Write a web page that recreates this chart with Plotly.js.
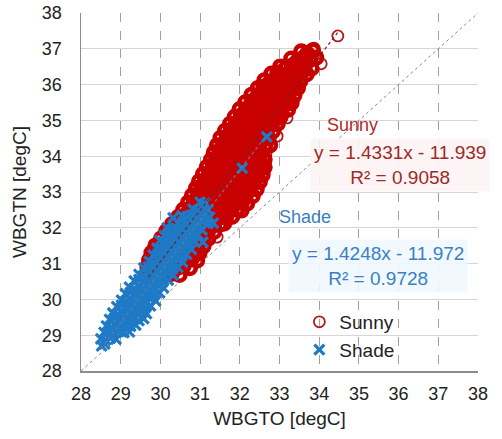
<!DOCTYPE html>
<html><head><meta charset="utf-8">
<script src="https://cdn.plot.ly/plotly-3.0.1.min.js"></script>
<style>html,body{margin:0;padding:0;background:#fff}#chart{width:502px;height:439px}</style>
</head><body><div id="chart"></div>
<script>
// Sunny outliers (isolated open circles)
const sunnyOutX = [34.47, 33.87, 34.05, 33.19, 32.94, 32.66, 31.43];
const sunnyOutY = [37.36, 37.02, 36.58, 35.07, 34.56, 34.06, 31.74];
// Sunny (WBGTO, WBGTN) dense cloud
const sunnyX = [
 33.55, 33.70, 33.84,
 33.30, 33.46, 33.60, 33.76, 33.92,
 33.02, 33.17, 33.33, 33.48, 33.63, 33.80,
 32.80, 32.95, 33.11, 33.26, 33.40, 33.55, 33.68,
 32.62, 32.77, 32.92, 33.07, 33.22, 33.38, 33.52,
 32.46, 32.60, 32.76, 32.90, 33.05, 33.20, 33.35, 33.46,
 32.30, 32.45, 32.60, 32.74, 32.90, 33.04, 33.20, 33.37,
 32.14, 32.30, 32.45, 32.60, 32.75, 32.90, 33.05, 33.20, 33.30,
 32.00, 32.15, 32.30, 32.45, 32.60, 32.75, 32.90, 33.05, 33.21,
 31.88, 32.03, 32.18, 32.33, 32.48, 32.63, 32.78, 32.92, 33.02,
 31.76, 31.90, 32.05, 32.20, 32.36, 32.50, 32.65, 32.80, 32.95,
 31.63, 31.78, 31.93, 32.08, 32.23, 32.38, 32.53, 32.68, 32.83,
 31.52, 31.67, 31.82, 31.97, 32.12, 32.27, 32.42, 32.57, 32.72,
 31.43, 31.58, 31.73, 31.88, 32.03, 32.18, 32.33, 32.48, 32.63, 32.76,
 31.35, 31.50, 31.65, 31.80, 31.95, 32.10, 32.25, 32.40, 32.54,
 31.28, 31.43, 31.58, 31.73, 31.88, 32.03, 32.18, 32.33, 32.48, 32.62,
 31.18, 31.33, 31.48, 31.63, 31.78, 31.93, 32.08, 32.23, 32.38, 32.52, 32.62,
 31.08, 31.23, 31.38, 31.53, 31.68, 31.83, 31.98, 32.13, 32.28, 32.43, 32.57,
 30.98, 31.13, 31.28, 31.43, 31.58, 31.73, 31.88, 32.03, 32.18, 32.33, 32.50,
 30.90, 31.05, 31.20, 31.35, 31.50, 31.65, 31.80, 31.95, 32.10, 32.25, 32.42,
 30.80, 30.95, 31.10, 31.25, 31.40, 31.55, 31.70, 31.85, 32.00, 32.15, 32.32,
 30.70, 30.85, 31.00, 31.15, 31.30, 31.45, 31.60, 31.75, 31.90, 32.05, 32.18,
 30.58, 30.73, 30.88, 31.03, 31.18, 31.33, 31.48, 31.63, 31.78, 31.93, 32.04,
 30.45, 30.60, 30.75, 30.90, 31.05, 31.20, 31.35, 31.50, 31.65, 31.80,
 30.30, 30.45, 30.60, 30.75, 30.90, 31.05, 31.20, 31.35, 31.50, 31.60,
 30.15, 30.30, 30.45, 30.60, 30.75, 30.90, 31.05, 31.20, 31.35,
 30.02, 30.17, 30.32, 30.47, 30.62, 30.77, 30.92, 31.07, 31.20,
 29.88, 30.03, 30.18, 30.33, 30.48, 30.63, 30.78, 30.93, 31.08,
 29.78, 29.93, 30.08, 30.23, 30.38, 30.53, 30.68, 30.83, 30.98,
 29.72, 29.87, 30.02, 30.17, 30.32, 30.47, 30.62, 30.78, 30.92,
 29.68, 29.83, 29.98, 30.13, 30.28, 30.43, 30.58, 30.74,
 29.72, 29.88, 30.05, 30.28, 30.48
];
const sunnyY = [
 36.92, 36.86, 36.95,
 36.72, 36.66, 36.74, 36.69, 36.75,
 36.50, 36.46, 36.53, 36.48, 36.52, 36.45,
 36.30, 36.34, 36.27, 36.32, 36.28, 36.33, 36.29,
 36.11, 36.07, 36.13, 36.09, 36.12, 36.06, 36.10,
 35.90, 35.94, 35.88, 35.92, 35.87, 35.93, 35.89, 35.91,
 35.71, 35.67, 35.73, 35.69, 35.72, 35.68, 35.74, 35.70,
 35.50, 35.53, 35.47, 35.52, 35.48, 35.51, 35.46, 35.52, 35.49,
 35.31, 35.27, 35.32, 35.28, 35.33, 35.29, 35.31, 35.27, 35.30,
 35.10, 35.13, 35.08, 35.12, 35.09, 35.11, 35.07, 35.12, 35.09,
 34.90, 34.87, 34.92, 34.88, 34.91, 34.86, 34.92, 34.89, 34.91,
 34.70, 34.73, 34.68, 34.72, 34.69, 34.71, 34.67, 34.72, 34.70,
 34.51, 34.47, 34.52, 34.48, 34.51, 34.49, 34.53, 34.48, 34.50,
 34.30, 34.33, 34.28, 34.32, 34.29, 34.31, 34.27, 34.32, 34.29, 34.31,
 34.10, 34.07, 34.12, 34.08, 34.11, 34.09, 34.13, 34.08, 34.10,
 33.90, 33.93, 33.88, 33.92, 33.89, 33.91, 33.87, 33.92, 33.89, 33.91,
 33.70, 33.67, 33.72, 33.68, 33.71, 33.69, 33.73, 33.68, 33.70, 33.72, 33.69,
 33.50, 33.53, 33.48, 33.52, 33.49, 33.51, 33.47, 33.52, 33.49, 33.51, 33.48,
 33.30, 33.27, 33.32, 33.28, 33.31, 33.29, 33.33, 33.28, 33.30, 33.32, 33.29,
 33.10, 33.13, 33.08, 33.12, 33.09, 33.11, 33.07, 33.12, 33.09, 33.11, 33.08,
 32.90, 32.87, 32.92, 32.88, 32.91, 32.89, 32.93, 32.88, 32.90, 32.92, 32.89,
 32.70, 32.73, 32.68, 32.72, 32.69, 32.71, 32.67, 32.72, 32.69, 32.71, 32.68,
 32.50, 32.47, 32.52, 32.48, 32.51, 32.49, 32.53, 32.48, 32.50, 32.52, 32.49,
 32.30, 32.33, 32.28, 32.32, 32.29, 32.31, 32.27, 32.32, 32.29, 32.31,
 32.10, 32.07, 32.12, 32.08, 32.11, 32.09, 32.13, 32.08, 32.10, 32.12,
 31.90, 31.93, 31.88, 31.92, 31.89, 31.91, 31.87, 31.92, 31.89,
 31.70, 31.67, 31.72, 31.68, 31.71, 31.69, 31.73, 31.68, 31.70,
 31.50, 31.53, 31.48, 31.52, 31.49, 31.51, 31.47, 31.52, 31.49,
 31.30, 31.27, 31.32, 31.28, 31.31, 31.29, 31.33, 31.28, 31.30,
 31.10, 31.13, 31.08, 31.12, 31.09, 31.11, 31.07, 31.12, 31.09,
 30.90, 30.87, 30.92, 30.88, 30.91, 30.89, 30.93, 30.88,
 30.70, 30.73, 30.68, 30.72, 30.69
];
// Shade points
const shadeX = [
 32.06, 32.68,
 28.52, 28.60,
 28.50, 28.62, 28.74, 28.88,
 28.58, 28.70, 28.82, 28.95, 29.08, 29.22,
 28.64, 28.76, 28.88, 29.00, 29.12, 29.25, 29.38,
 28.72, 28.84, 28.96, 29.08, 29.20, 29.33, 29.46, 29.58,
 28.80, 28.92, 29.04, 29.16, 29.28, 29.40, 29.52, 29.65,
 28.90, 29.02, 29.14, 29.26, 29.38, 29.50, 29.62, 29.75,
 29.02, 29.14, 29.26, 29.38, 29.50, 29.62, 29.74, 29.88,
 29.12, 29.24, 29.36, 29.48, 29.60, 29.72, 29.84, 29.98,
 29.22, 29.34, 29.46, 29.58, 29.70, 29.82, 29.94, 30.08,
 29.34, 29.46, 29.58, 29.70, 29.82, 29.94, 30.06, 30.20,
 29.46, 29.58, 29.70, 29.82, 29.94, 30.06, 30.18, 30.32,
 29.58, 29.70, 29.82, 29.94, 30.06, 30.18, 30.30, 30.44,
 29.72, 29.84, 29.96, 30.08, 30.20, 30.32, 30.44, 30.56,
 29.82, 29.94, 30.06, 30.18, 30.30, 30.42, 30.54, 30.66,
 29.92, 30.04, 30.16, 30.28, 30.40, 30.52, 30.64, 30.78,
 29.99, 30.10, 30.22, 30.34, 30.46, 30.58, 30.70, 30.85, 31.07,
 30.10, 30.22, 30.34, 30.46, 30.58, 30.70, 30.82, 30.95,
 30.17, 30.30, 30.42, 30.54, 30.66, 30.78, 30.90, 31.05,
 30.32, 30.45, 30.58, 30.70, 30.82, 30.94, 31.06, 31.20, 31.33,
 30.55, 30.68, 30.82, 30.96, 31.10, 31.24,
 30.82, 30.95, 31.08, 31.20,
 31.00, 31.12
];
const shadeY = [
 33.67, 34.54,
 28.70, 28.76,
 28.90, 28.87, 28.92, 28.89,
 29.08, 29.11, 29.06, 29.10, 29.07, 29.09,
 29.26, 29.23, 29.28, 29.24, 29.27, 29.25, 29.28,
 29.44, 29.47, 29.42, 29.46, 29.43, 29.45, 29.41, 29.46,
 29.62, 29.59, 29.64, 29.60, 29.63, 29.61, 29.65, 29.60,
 29.80, 29.83, 29.78, 29.82, 29.79, 29.81, 29.77, 29.82,
 29.98, 29.95, 30.00, 29.96, 29.99, 29.97, 30.01, 29.96,
 30.16, 30.19, 30.14, 30.18, 30.15, 30.17, 30.13, 30.18,
 30.34, 30.31, 30.36, 30.32, 30.35, 30.33, 30.37, 30.32,
 30.52, 30.55, 30.50, 30.54, 30.51, 30.53, 30.49, 30.54,
 30.70, 30.67, 30.72, 30.68, 30.71, 30.69, 30.73, 30.68,
 30.88, 30.91, 30.86, 30.90, 30.87, 30.89, 30.85, 30.90,
 31.06, 31.03, 31.08, 31.04, 31.07, 31.05, 31.09, 31.04,
 31.24, 31.27, 31.22, 31.26, 31.23, 31.25, 31.21, 31.26,
 31.42, 31.39, 31.44, 31.40, 31.43, 31.41, 31.45, 31.40,
 31.64, 31.60, 31.58, 31.62, 31.59, 31.61, 31.57, 31.62, 31.60,
 31.78, 31.81, 31.76, 31.80, 31.77, 31.79, 31.75, 31.80,
 32.00, 31.96, 31.98, 31.94, 31.97, 31.95, 31.99, 31.94,
 32.28, 32.14, 32.17, 32.12, 32.15, 32.13, 32.16, 32.12, 32.13,
 32.34, 32.31, 32.36, 32.32, 32.35, 32.30,
 32.52, 32.49, 32.54, 32.50,
 32.72, 32.68
];
// Trendline coefficients as printed on the chart
const sunnyFit = {slope: 1.4331, intercept: -11.939, r2: "0.9058", xFrom: 29.7, xTo: 34.5};
const shadeFit = {slope: 1.4248, intercept: -11.972, r2: "0.9728", xFrom: 28.5, xTo: 32.7};
const axisTicks = [28, 29, 30, 31, 32, 33, 34, 35, 36, 37, 38];

const FONT = "Liberation Sans, Arial, sans-serif";
function fitLine(f) {
  return {x: [f.xFrom, f.xTo], y: [f.slope*f.xFrom + f.intercept, f.slope*f.xTo + f.intercept]};
}
const sl = fitLine(sunnyFit), hl = fitLine(shadeFit);

const traces = [
  {x: [axisTicks[0], axisTicks[axisTicks.length-1]], y: [axisTicks[0], axisTicks[axisTicks.length-1]],
   mode: 'lines', line: {color: '#8a8a8a', width: 1, dash: 'dot'}, showlegend: false, hoverinfo: 'skip'},
  {x: sunnyOutX, y: sunnyOutY, name: 'Sunny', legendgroup: 'sunny', mode: 'markers', type: 'scatter',
   marker: {symbol: 'circle-open', size: 11, color: '#b01a1a', line: {width: 1.8}}},
  {x: sunnyX, y: sunnyY, name: 'Sunny', legendgroup: 'sunny', showlegend: false, mode: 'markers', type: 'scatter',
   marker: {symbol: 'circle-open', size: 12, color: '#c80000', line: {width: 4.6}}},
  {x: shadeX, y: shadeY, name: 'Shade', mode: 'markers', type: 'scatter',
   marker: {symbol: 'x-thin-open', size: 10, color: '#1f7ac6', line: {width: 3.2, color: '#1f7ac6'}}},
  {x: sl.x, y: sl.y, mode: 'lines', line: {color: '#7a2020', width: 1.2, dash: 'dot'}, showlegend: false, hoverinfo: 'skip'},
  {x: hl.x, y: hl.y, mode: 'lines', line: {color: '#5a7f9f', width: 1.2, dash: 'dot'}, showlegend: false, hoverinfo: 'skip'}
];

const fmt = f => 'y = ' + f.slope.toFixed(4) + 'x - ' + Math.abs(f.intercept).toFixed(3) + '<br>R² = ' + f.r2;

const layout = {
  width: 502, height: 439,
  margin: {l: 81, r: 24, t: 13, b: 68},
  paper_bgcolor: '#fff', plot_bgcolor: '#fff',
  font: {family: FONT, size: 18, color: '#222'},
  xaxis: {range: [28, 38], tickvals: axisTicks, showline: true, linecolor: '#8c8c8c', linewidth: 1.5,
          showgrid: true, gridcolor: '#a0a0a0', griddash: 'dash', gridwidth: 1, zeroline: false,
          ticks: '', ticklabelstandoff: 6, tickfont: {size: 18, color: '#222'},
          title: {text: 'WBGTO [degC]', font: {size: 19, color: '#222'}, standoff: 8}},
  yaxis: {range: [28, 38], tickvals: axisTicks, showline: true, linecolor: '#8c8c8c', linewidth: 1.5,
          showgrid: true, gridcolor: '#d6d6d6', gridwidth: 1, zeroline: false,
          ticks: '', ticklabelstandoff: 14, tickfont: {size: 18, color: '#222'},
          title: {text: 'WBGTN [degC]', font: {size: 19, color: '#222'}, standoff: 10}},
  showlegend: true,
  legend: {x: 0.55, y: 0.19, xanchor: 'left', yanchor: 'top', bgcolor: 'rgba(0,0,0,0)',
           font: {size: 19, color: '#222'}, tracegroupgap: 0},
  annotations: [
    {x: 34.85, y: 34.87, xref: 'x', yref: 'y', text: 'Sunny', showarrow: false,
     font: {size: 18, color: '#b02a2a'}},
    {x: 36.04, y: 33.75, xref: 'x', yref: 'y', text: fmt(sunnyFit), showarrow: false,
     font: {size: 19, color: '#a02828'}, bgcolor: 'rgba(253,244,244,0.9)', borderpad: 3, align: 'center'},
    {x: 33.64, y: 32.3, xref: 'x', yref: 'y', text: 'Shade', showarrow: false,
     font: {size: 18, color: '#3a7fc0'}},
    {x: 35.48, y: 30.93, xref: 'x', yref: 'y', text: fmt(shadeFit), showarrow: false,
     font: {size: 19, color: '#3a80c4'}, bgcolor: 'rgba(240,248,254,0.9)', borderpad: 3, align: 'center'}
  ]
};
Plotly.newPlot('chart', traces, layout, {displayModeBar: false, staticPlot: true});
</script></body></html>
